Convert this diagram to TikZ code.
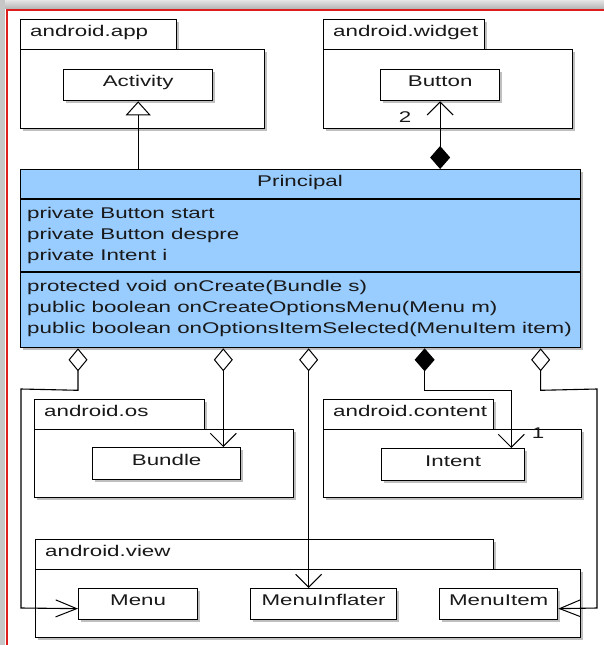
\documentclass[tikz,border=0pt]{standalone}
\usepackage{fontspec}
\setmainfont[FakeStretch=1.44]{Liberation Sans}
\usetikzlibrary{arrows.meta,shadows}
\definecolor{clsblue}{RGB}{153,204,255}
\definecolor{framered}{RGB}{220,30,30}
\definecolor{txtgray}{RGB}{25,25,25}
\begin{document}
\begin{tikzpicture}[x=1pt,y=-1pt,
  font=\fontsize{15.5}{18}\selectfont,
  every node/.style={text=txtgray},
  box/.style={draw=black, line width=1.3pt, fill=white, inner sep=0pt, anchor=north west,
    text height=10pt, text depth=7pt,
    drop shadow={shadow xshift=2pt, shadow yshift=-2pt, opacity=0.25, fill=black}},
  txt/.style={inner sep=0pt, anchor=base west},
  conn/.style={line width=1.1pt},
  vbarb/.tip={Straight Barb[length=13pt, width=26pt, line width=1pt]},
  hbarb/.tip={Straight Barb[length=21pt, width=17pt, line width=1pt]},
  odia/.tip={Diamond[open, length=23pt, width=19pt, line width=1pt]},
  fdia/.tip={Diamond[length=23pt, width=20pt]},
  gentri/.tip={Triangle[open, length=14pt, width=25pt, line width=1pt]}
]
\useasboundingbox (0,0) rectangle (604,645);
% window frame
\shade[top color=gray!20, bottom color=gray!55] (0,0) rectangle (604,8);
\fill[gray!45] (0,0) rectangle (5,645);
\draw[framered, line width=2pt] (7,645) -- (7,9.5) -- (604,9.5);

% android.app
\node[box, minimum width=156, minimum height=30] (appT) at (20,19) {};
\node[box, minimum width=244, minimum height=79] (appB) at (20,49) {};
\node[txt] (appL) at (30,36) {android.app};
\node[box, minimum width=149, minimum height=31] (Activity) at (63,69) {Activity};

% android.widget
\node[box, minimum width=161, minimum height=30] (widT) at (323,19) {};
\node[box, minimum width=249, minimum height=79] (widB) at (323,49) {};
\node[txt] (widL) at (333,36) {android.widget};
\node[box, minimum width=119, minimum height=31] (Button) at (380,69) {Button};

% Principal
\node[box, fill=clsblue, minimum width=560, minimum height=178] (P) at (20,169) {};
\draw[line width=1.1pt] (20,199) -- (580,199);
\draw[line width=1.1pt] (20,272) -- (580,272);
\node[inner sep=0pt, anchor=base] (Pn) at (300,186) {Principal};
\node[txt] (a1) at (27,218) {private Button start};
\node[txt] (a2) at (27,239) {private Button despre};
\node[txt] (a3) at (27,260) {private Intent i};
\node[txt] (m1) at (27,291.5) {protected void onCreate(Bundle s)};
\node[txt] (m2) at (27,312) {public boolean onCreateOptionsMenu(Menu m)};
\node[txt] (m3) at (27,333) {public boolean onOptionsItemSelected(MenuItem item)};

% android.os
\node[box, minimum width=170, minimum height=30] (osT) at (34,399) {};
\node[box, minimum width=259, minimum height=68] (osB) at (34,429) {};
\node[txt] (osL) at (44,416) {android.os};
\node[box, minimum width=148, minimum height=32] (Bundle) at (92,447) {Bundle};

% android.content
\node[box, minimum width=170, minimum height=30] (conT) at (323,399) {};
\node[box, minimum width=258, minimum height=68] (conB) at (323,429) {};
\node[txt] (conL) at (333,416) {android.content};
\node[box, minimum width=143, minimum height=32] (Intent) at (381,448) {Intent};

% android.view
\node[box, minimum width=458, minimum height=30] (viewT) at (35,539) {};
\node[box, minimum width=545, minimum height=68] (viewB) at (35,569) {};
\node[txt] (viewL) at (45,556) {android.view};
\node[box, minimum width=119, minimum height=31] (Menu) at (78,588) {Menu};
\node[box, minimum width=146, minimum height=31] (MenuInflater) at (250,588) {MenuInflater};
\node[box, minimum width=118, minimum height=31] (MenuItem) at (439,588) {MenuItem};

% connectors
\draw[conn, -gentri] (P.north -| Activity.south) -- (Activity.south);
\draw[conn, fdia-vbarb] (P.north -| Button.south) -- (Button.south);
\node[inner sep=0pt] (n2) at (405,117) {2};

\coordinate (bndIn) at ([xshift=-18pt]Bundle.north east);
\coordinate (minfIn) at ([xshift=-15pt]MenuInflater.north);
\coordinate (intIn) at ([xshift=-14pt]Intent.north east);
\coordinate (menuIn) at ([yshift=-4.5pt]Menu.west);
\coordinate (itemIn) at ([yshift=-4.5pt]MenuItem.east);

\draw[conn, odia-hbarb] (P.south -| Menu.west) -- ++(0,42) -- (21,389) -- (21,608) -- (menuIn);
\draw[conn, odia-vbarb] (bndIn |- P.south) -- (bndIn);
\draw[conn, odia-vbarb] (minfIn |- P.south) -- (minfIn);
\draw[conn, fdia-vbarb] ([xshift=124pt]P.south) -- ++(0,42) -| (intIn);
\draw[conn, odia-hbarb] ([xshift=240pt]P.south) -- ++(0,42) -- (597,389) -- (597,608) -- (itemIn);
\node[inner sep=0pt] (n1) at (538,433) {1};
\end{tikzpicture}
\end{document}
